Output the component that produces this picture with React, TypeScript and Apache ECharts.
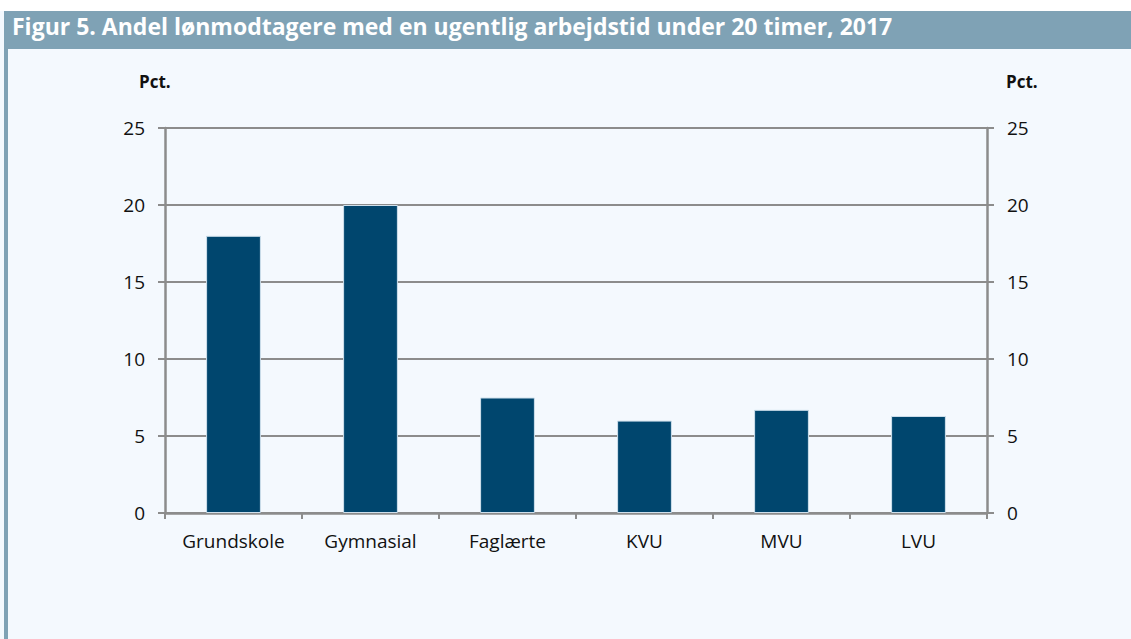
import React, { useEffect, useRef } from "react";
import * as echarts from "echarts";

const title = "Figur 5. Andel lønmodtagere med en ugentlig arbejdstid under 20 timer, 2017";
const categories = ["Grundskole", "Gymnasial", "Faglærte", "KVU", "MVU", "LVU"];
const values = [18.0, 20.0, 7.5, 6.0, 6.7, 6.3];
const unitLabel = "Pct.";

export default function App() {
  const ref = useRef<HTMLDivElement>(null);
  useEffect(() => {
    if (!ref.current) return;
    const chart = echarts.init(ref.current, null, { renderer: "svg" });
    const font = "'Open Sans', 'Noto Sans', sans-serif";
    const gray = "#8c8c8c";
    const yAxisBase = {
      type: "value",
      min: 0,
      max: 25,
      interval: 5,
      axisLine: { show: true, lineStyle: { color: gray, width: 2.5 } },
      axisTick: { show: true, length: 7, lineStyle: { color: gray, width: 2 } },
      axisLabel: { color: "#111", fontSize: 19, fontFamily: font, margin: 20 },
    };
    chart.setOption({
      animation: false,
      backgroundColor: "#f4f9fe",
      graphic: [
        { type: "rect", left: 0, top: 0, shape: { width: 1131, height: 11 }, style: { fill: "#ffffff" }, z: -1 },
        { type: "rect", left: 4, top: 11, shape: { width: 1127, height: 38 }, style: { fill: "#7fa2b5" } },
        { type: "rect", left: 4, top: 49, shape: { width: 4, height: 590 }, style: { fill: "#7fa2b5" } },
        {
          type: "text",
          left: 12,
          top: 14,
          style: { text: title, fill: "#ffffff", font: `bold 23px ${font}` },
        },
        {
          type: "text",
          left: 139,
          top: 73,
          style: { text: unitLabel, fill: "#111", font: `bold 17px ${font}` },
        },
        {
          type: "text",
          left: 1006,
          top: 73,
          style: { text: unitLabel, fill: "#111", font: `bold 17px ${font}` },
        },
      ],
      grid: { left: 165, right: 144, top: 128, bottom: 126 },
      xAxis: {
        type: "category",
        data: categories,
        boundaryGap: true,
        axisLine: { show: true, lineStyle: { color: gray, width: 2.5 } },
        axisTick: { show: true, length: 6, alignWithLabel: false, lineStyle: { color: gray, width: 2 } },
        axisLabel: { color: "#111", fontSize: 19, fontFamily: font, margin: 18 },
      },
      yAxis: [
        {
          ...yAxisBase,
          position: "left",
          splitLine: { show: true, lineStyle: { color: gray, width: 2 } },
        },
        {
          ...yAxisBase,
          position: "right",
          splitLine: { show: false },
        },
      ],
      series: [
        {
          type: "bar",
          data: values,
          yAxisIndex: 0,
          barWidth: "40%",
          itemStyle: { color: "#00466e", borderColor: "#cfe0ec", borderWidth: 1 },
        },
      ],
    });
    return () => chart.dispose();
  }, []);
  return (
    <div
      ref={ref}
      style={{ position: "fixed", left: 0, top: 0, width: 1131, height: 639 }}
    />
  );
}
